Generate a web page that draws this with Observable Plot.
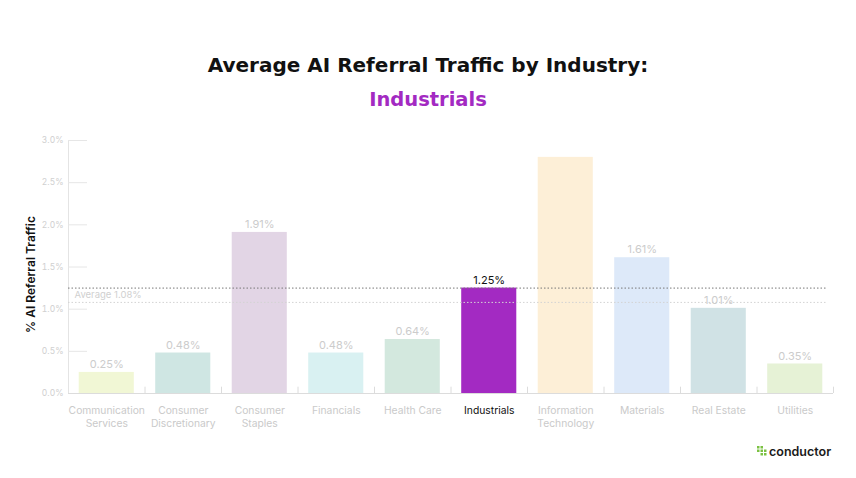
<!DOCTYPE html>
<html>
<head>
<meta charset="utf-8">
<script src="https://cdn.jsdelivr.net/npm/d3@7"></script>
<script src="https://cdn.jsdelivr.net/npm/@observablehq/plot@0.6"></script>
<style>
  html, body { margin: 0; padding: 0; background: #fff; width: 856px; height: 478px; overflow: hidden; font-family: Inter, "Noto Sans", sans-serif; }
  #title { position: absolute; top: 53px; left: 0; width: 856px; text-align: center; font-family: "DejaVu Sans", sans-serif; font-size: 20px; font-weight: 700; color: #111; line-height: 24px; }
  #subtitle { position: absolute; top: 88px; left: 0; width: 856px; text-align: center; font-family: "DejaVu Sans", sans-serif; font-size: 19.5px; font-weight: 700; color: #a32ac2; line-height: 24px; }
  #chart { position: absolute; top: 120px; left: 0; }
  #logo { position: absolute; left: 757px; top: 443px; height: 16px; display: flex; align-items: center; gap: 2px; font-size: 12.5px; font-weight: 600; color: #1a1a1a; }
</style>
</head>
<body>
<div id="title">Average AI Referral Traffic by Industry:</div>
<div id="subtitle">Industrials</div>
<div id="chart"></div>
<div id="logo"><svg width="10" height="10" viewBox="0 0 10 10"><rect x="0" y="0" width="2.5" height="2.5" fill="#7bc142"/><rect x="3.5" y="0" width="2.5" height="2.5" fill="#7bc142"/><rect x="0" y="3.5" width="2.5" height="2.5" fill="#7bc142"/><rect x="3.5" y="3.5" width="2.5" height="2.5" fill="#7bc142"/><rect x="7" y="3.5" width="2.5" height="2.5" fill="#7bc142"/><rect x="3.5" y="7" width="2.5" height="2.5" fill="#7bc142"/><rect x="7" y="7" width="2.5" height="2.5" fill="#7bc142"/></svg><span>conductor</span></div>
<script>
const categories = ["Communication Services", "Consumer Discretionary", "Consumer Staples", "Financials", "Health Care", "Industrials", "Information Technology", "Materials", "Real Estate", "Utilities"];
const tickLabels = ["Communication\nServices", "Consumer\nDiscretionary", "Consumer\nStaples", "Financials", "Health Care", "Industrials", "Information\nTechnology", "Materials", "Real Estate", "Utilities"];
const values = [0.25, 0.48, 1.91, 0.48, 0.64, 1.25, 2.80, 1.61, 1.01, 0.35];
const showLabel = [true, true, true, true, true, true, false, true, true, true];
const barColors = ["#f1f7d5", "#cfe6e3", "#e2d5e5", "#d9f1f2", "#d3e8de", "#a32ac2", "#fdefd7", "#dde9f9", "#d0e2e5", "#e6f2d6"];
const yTicks = [0, 0.5, 1.0, 1.5, 2.0, 2.5, 3.0];
const average = 1.08;
const highlight = "Industrials";

const data = categories.map((c, i) => ({cat: c, label: tickLabels[i], value: values[i], color: barColors[i], show: showLabel[i]}));
const step = (833 - 68) / categories.length;
const bandwidth = step * (1 - 0.28);
const outer = step * 0.14;

const chart = Plot.plot({
  width: 856,
  height: 330,
  marginTop: 20,
  marginBottom: 57,
  marginLeft: 68,
  marginRight: 23,
  style: {fontFamily: "Inter, 'Noto Sans', sans-serif", background: "transparent"},
  x: {domain: categories, paddingInner: 0.28, paddingOuter: 0.14, round: false, axis: null},
  y: {domain: [0, 3], axis: null},
  marks: [
    Plot.barY(data, {x: "cat", y: "value", fill: "color"}),
    // y axis line
    Plot.ruleX([categories[0]], {dx: -(outer + bandwidth / 2), y1: 0, y2: 3, stroke: "#e4e4e4"}),
    // inward y ticks
    Plot.tickY(yTicks, {y: d => d, x: () => categories[0], dx: -outer, insetRight: bandwidth - 19, stroke: "#e6e6e6"}),
    // y tick labels
    Plot.axisY(yTicks, {tickSize: 0, tickPadding: 5, fill: "#d0d0d0", fontSize: 8.5, tickFormat: d => d.toFixed(1) + "%", label: null}),
    // x axis line
    Plot.ruleY([0], {stroke: "#dcdcdc"}),
    // boundary ticks on x axis
    Plot.ruleX(categories, {dx: step / 2, y1: 0, y2: 0.075, stroke: "#dcdcdc"}),
    // average and highlight lines
    Plot.ruleY([average], {stroke: "#d4d4d4", strokeDasharray: "1.5,2", insetRight: 7}),
    Plot.ruleY([values[categories.indexOf(highlight)]], {stroke: "#777", strokeDasharray: "1.5,2", insetRight: 7}),
    Plot.text([average], {y: d => d, frameAnchor: "left", dx: 6, dy: -7, text: d => `Average ${d.toFixed(2)}%`, fill: "#d0d0d0", fontSize: 9.5, textAnchor: "start"}),
    // value labels
    Plot.text(data.filter(d => d.show), {x: "cat", y: "value", dy: -8, text: d => d.value.toFixed(2) + "%", fill: d => d.cat === highlight ? "#111" : "#cccccc", fontSize: 11, fontWeight: d => d.cat === highlight ? 500 : 400}),
    // x tick labels
    Plot.text(data, {x: "cat", y: 0, dy: 11, lineAnchor: "top", text: "label", fill: d => d.cat === highlight ? "#111" : "#cacaca", fontSize: 10.3, lineHeight: 1.25, fontWeight: d => d.cat === highlight ? 500 : 400}),
    // y axis title
    Plot.text(["% AI Referral Traffic"], {frameAnchor: "left", textAnchor: "middle", dx: -37, dy: 7.5, rotate: -90, text: d => d, fill: "#111", fontSize: 12, fontWeight: 600})
  ]
});
document.getElementById("chart").appendChild(chart);
</script>
</body>
</html>
